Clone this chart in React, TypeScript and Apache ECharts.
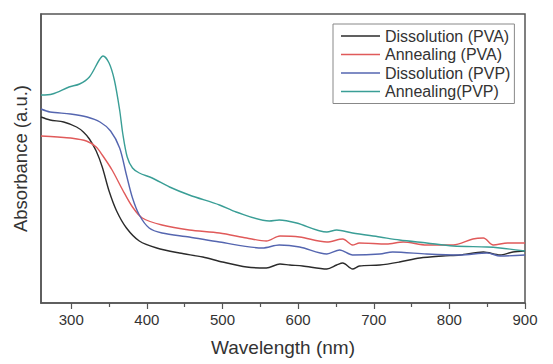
import React, { useEffect, useRef } from "react";
import * as echarts from "echarts";

const xTicks = [300, 400, 500, 600, 700, 800, 900];
const xMinorTicks = [350, 450, 550, 650, 750, 850];

const seriesNames = ["Dissolution (PVA)", "Annealing (PVA)", "Dissolution (PVP)", "Annealing(PVP)"];

const blackX = [260, 272, 290, 307, 316, 324, 333, 341, 350, 360, 373, 390, 413, 443, 474, 500, 532, 558, 576, 589, 606, 638, 651, 659, 672, 681, 708, 734, 761, 791, 814, 845, 867, 884, 900];
const blackY = [186, 183, 181, 176, 171, 164, 152, 136, 112, 92, 75, 62, 55, 50, 46, 41, 36, 35, 39, 38, 37, 34, 38, 40, 34, 37, 38, 41, 45, 47, 48, 51, 48, 51, 52];

const redX = [260, 282, 299, 320, 333, 341, 354, 368, 381, 394, 420, 456, 496, 532, 558, 576, 602, 638, 659, 672, 681, 717, 739, 770, 805, 831, 845, 858, 877, 900];
const redY = [167, 166, 165, 162, 156, 148, 133, 113, 96, 85, 78, 73, 70, 65, 62, 67, 66, 61, 64, 58, 60, 59, 61, 58, 58, 64, 65, 58, 60, 60];

const blueX = [260, 272, 299, 321, 338, 352, 364, 373, 381, 390, 403, 420, 456, 496, 553, 575, 602, 638, 655, 672, 708, 725, 770, 814, 850, 867, 900];
const blueY = [194, 191, 189, 186, 181, 172, 155, 128, 105, 88, 75, 70, 66, 61, 55, 58, 56, 49, 53, 48, 49, 51, 49, 48, 50, 47, 48];

const tealX = [260, 275, 297, 311, 324, 337, 342, 350, 357, 364, 368, 374, 381, 390, 407, 430, 456, 496, 518, 562, 575, 598, 638, 651, 672, 708, 734, 770, 805, 850, 867, 900];
const tealY = [208, 209, 216, 219, 226, 243, 247, 240, 223, 193, 170, 146, 135, 130, 125, 116, 108, 98, 91, 82, 83, 80, 71, 73, 70, 66, 63, 60, 57, 56, 55, 52];

const colors = ["#2b2b2b", "#e05a5a", "#5566b0", "#3a9e96"];

const zip = (xs: number[], ys: number[]) => xs.map((x, i) => [x, ys[i]]);

export default function App() {
  const ref = useRef<HTMLDivElement>(null);
  useEffect(() => {
    document.body.style.margin = "0";
    const chart = echarts.init(ref.current!, null, { renderer: "svg" });
    const font = "Liberation Sans, Arial, sans-serif";
    const data = [zip(blackX, blackY), zip(redX, redY), zip(blueX, blueY), zip(tealX, tealY)];
    chart.setOption({
      animation: false,
      backgroundColor: "#ffffff",
      textStyle: { fontFamily: font },
      grid: {
        left: 41,
        right: 28,
        top: 14,
        bottom: 61,
        show: true,
        borderColor: "#555",
        borderWidth: 1.5,
        backgroundColor: "transparent",
      },
      legend: {
        orient: "vertical",
        left: 333,
        top: 24,
        width: 173,
        padding: [4, 4, 4, 8],
        borderColor: "#888",
        borderWidth: 1,
        icon: "path://M0,0H40V1.5H0Z",
        itemWidth: 39,
        itemHeight: 14,
        itemGap: 2.5,
        textStyle: { fontSize: 16, color: "#333", fontFamily: font },
        data: seriesNames,
      },
      xAxis: [
        {
          type: "value",
          min: 260,
          max: 900,
          name: "Wavelength (nm)",
          nameLocation: "middle",
          nameGap: 35,
          nameTextStyle: { fontSize: 19, color: "#333", fontFamily: font },
          axisLine: { show: true, lineStyle: { color: "#555", width: 1.5 } },
          axisTick: { show: true, customValues: xTicks, length: 6, lineStyle: { color: "#555", width: 1.2 } },
          axisLabel: { show: true, customValues: xTicks, fontSize: 15, color: "#333", margin: 9, fontFamily: font },
          splitLine: { show: false },
        },
        {
          type: "value",
          min: 260,
          max: 900,
          position: "bottom",
          axisLine: { show: false },
          axisTick: { show: true, customValues: xMinorTicks, length: 4, lineStyle: { color: "#555", width: 1.2 } },
          axisLabel: { show: false },
          splitLine: { show: false },
        },
      ],
      yAxis: {
        type: "value",
        min: 0,
        max: 289,
        name: "Absorbance (a.u.)",
        nameLocation: "middle",
        nameGap: 11,
        nameTextStyle: { fontSize: 18.5, color: "#333", fontFamily: font },
        axisLine: { show: true, lineStyle: { color: "#555", width: 1.5 } },
        axisTick: { show: false },
        axisLabel: { show: false },
        splitLine: { show: false },
      },
      series: data.map((d, i) => ({
        name: seriesNames[i],
        type: "line",
        xAxisIndex: 0,
        data: d,
        symbol: "none",
        smooth: 0.3,
        color: colors[i],
        lineStyle: { color: colors[i], width: 1.4 },
      })),
    });
    return () => chart.dispose();
  }, []);
  return <div ref={ref} style={{ width: 553, height: 364 }} />;
}
